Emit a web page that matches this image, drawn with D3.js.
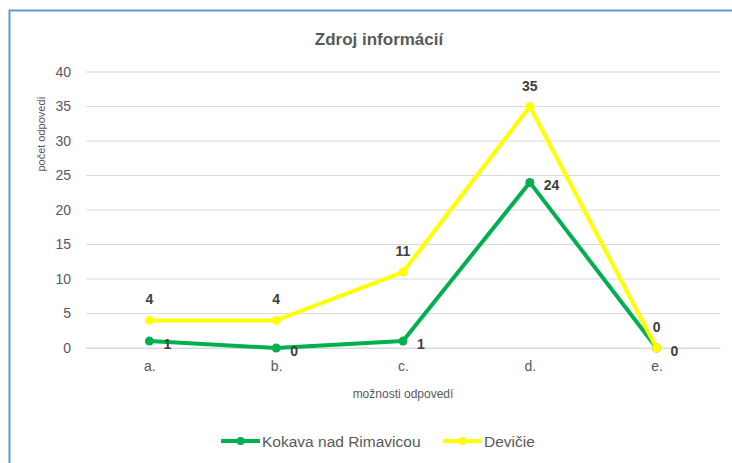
<!DOCTYPE html>
<html><head><meta charset="utf-8">
<script src="https://cdn.jsdelivr.net/npm/d3@7"></script>
<style>
html,body{margin:0;padding:0;background:#fff;}
svg{display:block;font-family:"Liberation Sans Narrow","Arial Narrow","Liberation Sans",sans-serif;}
</style></head>
<body>
<script>
const categories = ["a.", "b.", "c.", "d.", "e."];
const kokava = [1, 0, 1, 24, 0];
const devicie = [4, 4, 11, 35, 0];
const seriesNames = ["Kokava nad Rimavicou", "Devičie"];
const yTicks = [0, 5, 10, 15, 20, 25, 30, 35, 40];
const title = "Zdroj informácií";
const yTitle = "počet odpovedí";
const xTitle = "možnosti odpovedí";

const W = 732, H = 463;
const svg = d3.select("body").append("svg").attr("width", W).attr("height", H);

// chart border
svg.append("path").attr("d", "M9.5,463 L9.5,10.5 L732,10.5")
  .attr("fill", "none").attr("stroke", "#5b9bd5").attr("stroke-width", 2);

const x = d3.scalePoint().domain(categories).range([86, 720]).padding(0.5);
const y = d3.scaleLinear().domain([0, 40]).range([348, 72]);

// gridlines
svg.append("g").selectAll("line").data(yTicks).join("line")
  .attr("x1", 86).attr("x2", 720)
  .attr("y1", d => y(d)).attr("y2", d => y(d))
  .attr("stroke", "#d9d9d9").attr("stroke-width", 1);

// y axis
const yAxis = svg.append("g").attr("transform", "translate(86,0)")
  .call(d3.axisLeft(y).tickValues(yTicks).tickSize(0).tickPadding(15));
yAxis.select(".domain").remove();
yAxis.selectAll("text").attr("fill", "#595959").style("font-size", "14px")
  .style("font-family", "'Liberation Sans Narrow','Arial Narrow','Liberation Sans',sans-serif");

// x axis
const xAxis = svg.append("g").attr("transform", "translate(0,348)")
  .call(d3.axisBottom(x).tickSize(0).tickPadding(13));
xAxis.select(".domain").attr("stroke", "#d9d9d9");
xAxis.selectAll("text").attr("fill", "#595959").style("font-size", "14px")
  .style("font-family", "'Liberation Sans Narrow','Arial Narrow','Liberation Sans',sans-serif");

// titles
svg.append("text").attr("x", 379).attr("y", 45).attr("text-anchor", "middle")
  .attr("fill", "#595959").style("font-size", "17px").style("font-weight", "bold").text(title);
svg.append("text").attr("transform", "translate(45,134) rotate(-90)").attr("text-anchor", "middle")
  .attr("fill", "#595959").style("font-size", "11px").text(yTitle);
svg.append("text").attr("x", 403).attr("y", 398).attr("text-anchor", "middle")
  .attr("fill", "#595959").style("font-size", "12px").text(xTitle);

const series = [
  {name: seriesNames[0], values: kokava, color: "#00b050", pos: "right"},
  {name: seriesNames[1], values: devicie, color: "#ffff00", pos: "above"}
];
const line = d3.line().x((d, i) => x(categories[i])).y(d => y(d));

series.forEach(s => {
  const g = svg.append("g");
  g.append("path").datum(s.values).attr("d", line)
    .attr("fill", "none").attr("stroke", s.color).attr("stroke-width", 4)
    .attr("stroke-linejoin", "round");
  g.selectAll("circle").data(s.values).join("circle")
    .attr("cx", (d, i) => x(categories[i])).attr("cy", d => y(d)).attr("r", 4.5)
    .attr("fill", s.color);
});

// labels
series.forEach(s => {
  svg.append("g").selectAll("text").data(s.values).join("text")
    .attr("x", (d, i) => s.pos === "right" ? x(categories[i]) + 14 : x(categories[i]))
    .attr("y", d => s.pos === "right" ? y(d) + 8 : y(d) - 16)
    .attr("text-anchor", s.pos === "right" ? "start" : "middle")
    .attr("fill", "#404040").style("font-size", "14px").style("font-weight", "bold")
    .text(d => d);
});

// legend
const leg = [{x: 221, s: series[0]}, {x: 443, s: series[1]}];
leg.forEach(l => {
  const g = svg.append("g");
  g.append("line").attr("x1", l.x).attr("x2", l.x + 39).attr("y1", 441).attr("y2", 441)
    .attr("stroke", l.s.color).attr("stroke-width", 4);
  g.append("circle").attr("cx", l.x + 19.5).attr("cy", 441).attr("r", 4).attr("fill", l.s.color);
  g.append("text").attr("x", l.x + 41).attr("y", 447).attr("fill", "#595959")
    .style("font-size", "15.5px").text(l.s.name);
});
</script>
</body></html>
